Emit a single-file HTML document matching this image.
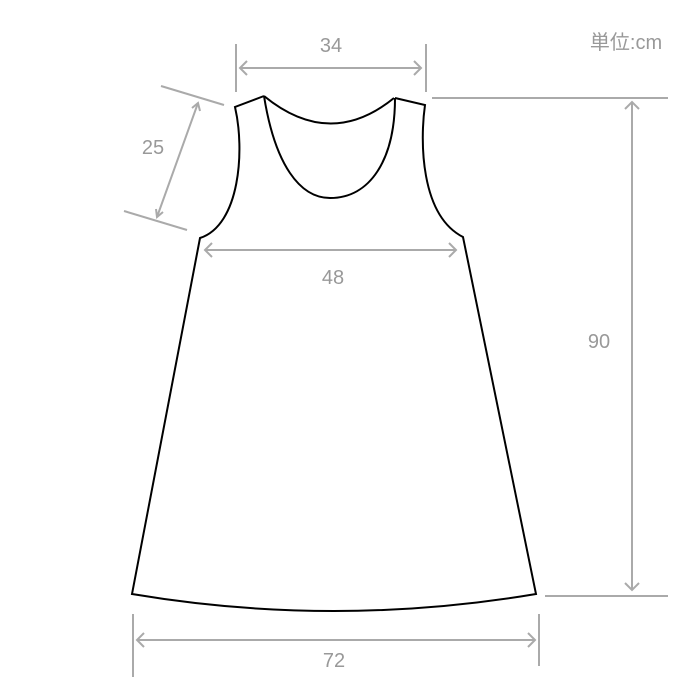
<!DOCTYPE html>
<html><head><style>body{margin:0;background:#fff}svg{display:block}text{font-family:"Liberation Sans","Noto Sans CJK JP",sans-serif;fill:#999}</style></head><body>
<svg width="700" height="700" viewBox="0 0 700 700">
<g fill="none" stroke="#000" stroke-width="2">
<path d="M264,96 L235,107 C245,150 240,225 200,238 L132,594 Q334,628 536,594 L463,237 C420,215 420,140 425,105 L395,98"/>
<path d="M264,96 Q330,150 394,98"/>
<path d="M264,96 C275,165 300,198 330,198 C370,198 395,160 395,98"/>
</g>
<g fill="none" stroke="#aaa" stroke-width="2">
<line x1="236" y1="44" x2="236" y2="92"/><line x1="426" y1="44" x2="426" y2="92"/>
<line x1="240" y1="68" x2="421" y2="68"/><path d="M247,61 L240,68 L247,75 M414,61 L421,68 L414,75"/>
<line x1="161" y1="86" x2="224" y2="105"/><line x1="124" y1="211" x2="187" y2="230"/>
<line x1="198" y1="103" x2="157" y2="217"/><path d="M192,108 L198,103 L200,111 M156,209 L157,217 L163,212"/>
<line x1="205" y1="250" x2="456" y2="250"/><path d="M212,243 L205,250 L212,257 M449,243 L456,250 L449,257"/>
<line x1="432" y1="98" x2="668" y2="98"/><line x1="545" y1="596" x2="668" y2="596"/>
<line x1="632" y1="102" x2="632" y2="590"/><path d="M625,109 L632,102 L639,109 M625,583 L632,590 L639,583"/>
<line x1="133" y1="614" x2="133" y2="677"/><line x1="539" y1="614" x2="539" y2="666"/>
<line x1="137" y1="640" x2="535" y2="640"/><path d="M144,633 L137,640 L144,647 M528,633 L535,640 L528,647"/>
</g>
<g font-size="20" text-anchor="middle">
<text x="331" y="52">34</text><text x="153" y="154">25</text><text x="333" y="284">48</text>
<text x="599" y="348">90</text><text x="334" y="667">72</text>
<text x="626" y="49" font-size="20">単位:cm</text>
</g>
</svg>
</body></html>
